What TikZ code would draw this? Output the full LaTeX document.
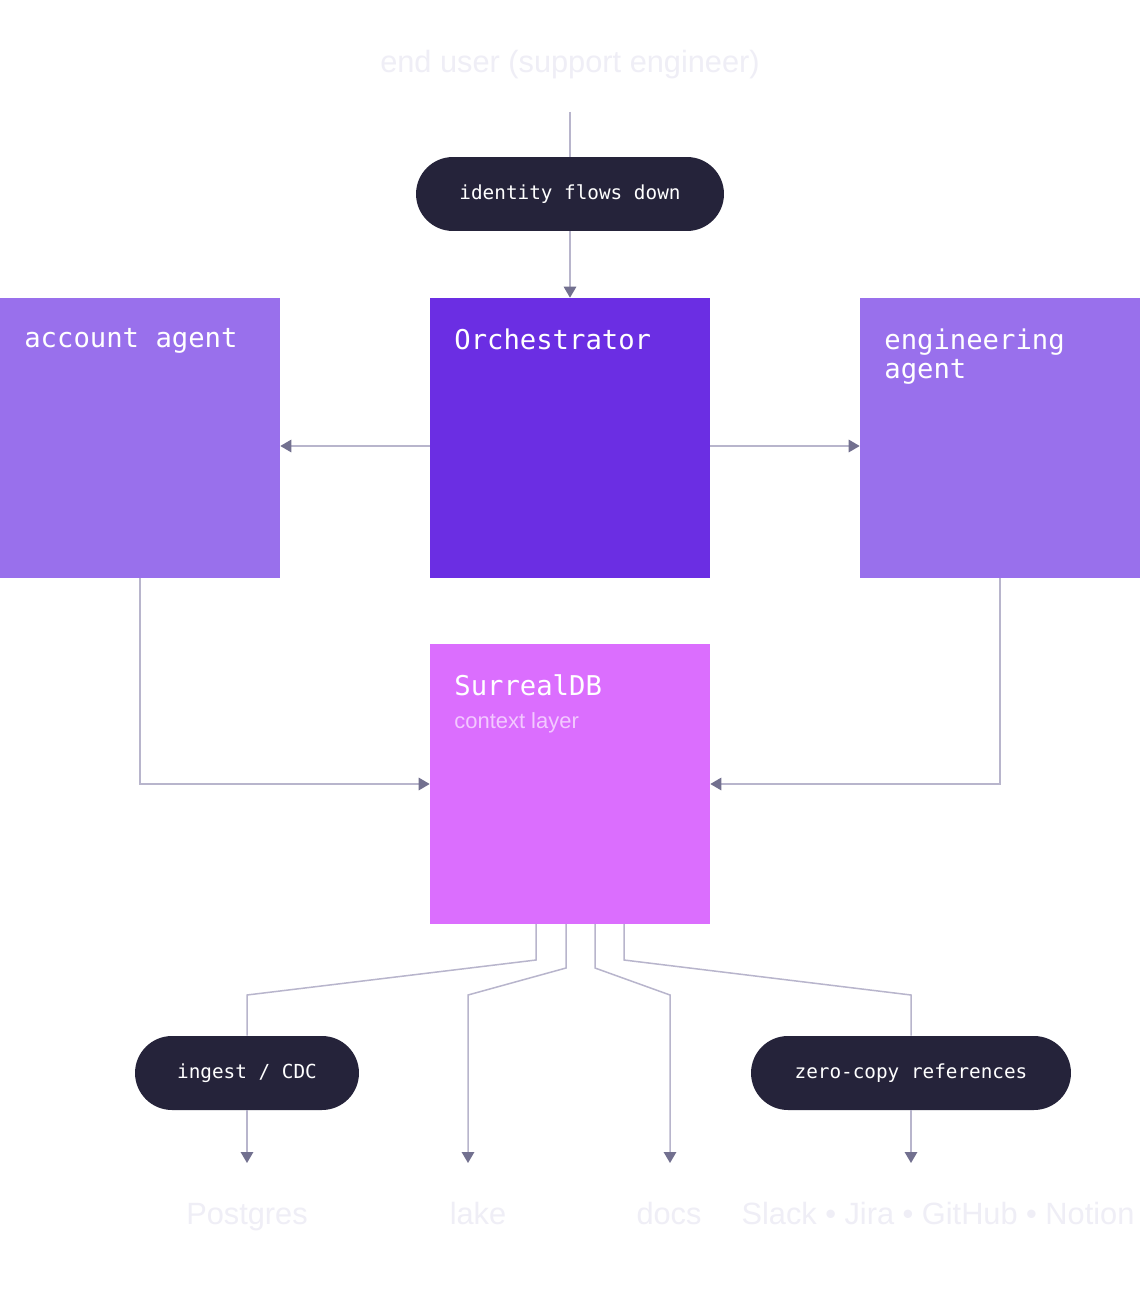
\documentclass[tikz,border=0pt]{standalone}
\usepackage{fontspec}
\setmainfont{Liberation Sans}
\newfontfamily\monofont{DejaVu Sans Mono}
\usetikzlibrary{arrows.meta}
\definecolor{accountc}{HTML}{9970EC}
\definecolor{orchc}{HTML}{6B2EE3}
\definecolor{surrealc}{HTML}{DB6EFE}
\definecolor{pillc}{HTML}{25233A}
\definecolor{linec}{HTML}{B8B5CC}
\definecolor{arrowc}{HTML}{72708F}
\definecolor{faintc}{HTML}{EFEEF6}
\definecolor{subc}{HTML}{F3C9FF}
\tikzset{%
    box/.style={draw=none,minimum width=5.6cm,minimum height=5.6cm,inner sep=0pt},
    title/.style={anchor=north west,inner sep=0pt,align=left,text=white,font=\monofont\fontsize{15.5}{17}\selectfont},
    pill/.style={fill=pillc,rounded corners=0.74cm,minimum height=1.48cm,text=white,inner sep=0pt,font=\monofont\fontsize{11}{13}\selectfont},
    faint/.style={anchor=base,text=faintc,font=\fontsize{17.5}{20}\selectfont,inner sep=0pt},
    wire/.style={draw=linec,line width=0.85pt},
    flow/.style={wire,-{Triangle[length=0.22cm,width=0.25cm,color=arrowc]}}
}
\begin{document}
\begin{tikzpicture}[x=0.02cm,y=-0.02cm]
    \useasboundingbox[fill=white] (0,0) rectangle (1140,1308);
    % top
    \node[faint] (user) at (570,72) {end user (support engineer)};
    \coordinate (top) at (570,112);
    \node[pill,minimum width=6.16cm] (identity) at (570,194) {identity flows down};
    % agents
    \node[box,fill=accountc] (account) at (140,438) {};
    \node[box,fill=orchc] (orch) at (570,438) {};
    \node[box,fill=accountc] (eng) at (1000,438) {};
    \node[title] at (24,328) {account agent};
    \node[title] at (454,328) {Orchestrator};
    \node[title] at (884,328) {engineering\\agent};
    \node[box,fill=surrealc] (surreal) at (570,784) {};
    \node[title] at (454,674) {SurrealDB};
    \node[anchor=north west,inner sep=0pt,text=subc,font=\fontsize{12.5}{15}\selectfont] at (454,712) {context layer};
    \coordinate (split) at (570,446);
    \draw[wire] (top) -- (identity);
    \draw[flow] (identity) -- (orch);
    \draw[flow] (split -| orch.west) -- (split -| account.east);
    \draw[flow] (split -| orch.east) -- (split -| eng.west);
    \draw[flow] (account.south) |- (surreal.west);
    \draw[flow] (eng.south) |- (surreal.east);
    % sources
    \node[pill,minimum width=4.48cm] (ingest) at (247,1073) {ingest / CDC};
    \node[pill,minimum width=6.4cm] (zero) at (911,1073) {zero-copy references};
    \coordinate (pg) at (247,1163);
    \coordinate (lk) at (468,1163);
    \coordinate (dc) at (670,1163);
    \coordinate (sl) at (911,1163);
    \node[faint] (postgres) at (247,1224) {Postgres};
    \node[faint] (lake) at (478,1224) {lake};
    \node[faint] (docs) at (669,1224) {docs};
    \node[faint] (tools) at (938,1224) {Slack • Jira • GitHub • Notion};
    \draw[wire] (536,924) -- (536,960) -- (247,995) -- (ingest);
    \draw[flow] (ingest) -- (pg);
    \draw[flow] (566,924) -- (566,968) -- (468,995) -- (lk);
    \draw[flow] (595,924) -- (595,968) -- (670,995) -- (dc);
    \draw[wire] (624,924) -- (624,960) -- (911,995) -- (zero);
    \draw[flow] (zero) -- (sl);
\end{tikzpicture}
\end{document}
